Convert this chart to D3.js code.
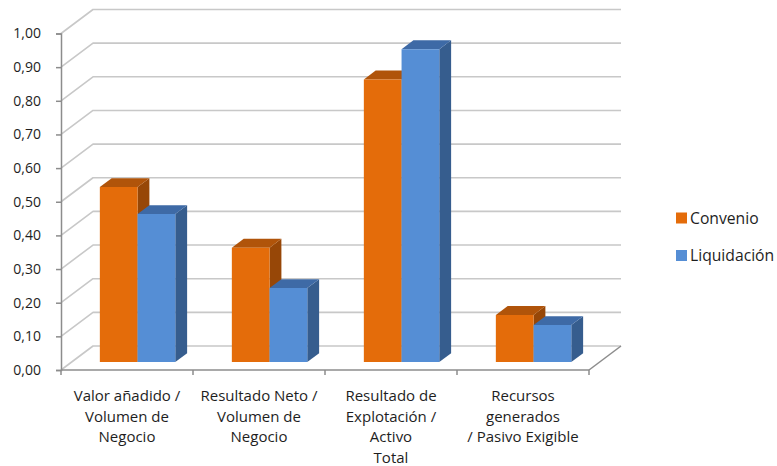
<!DOCTYPE html>
<html>
<head>
<meta charset="utf-8">
<script src="https://cdn.jsdelivr.net/npm/d3@7"></script>
<style>
  html, body { margin: 0; padding: 0; background: #fff; }
  svg { display: block; }
  text { font-family: "Open Sans", sans-serif; fill: #1e1e1e; }
</style>
</head>
<body>
<svg id="chart" width="777" height="466"></svg>
<script>
// Ratios by category, two scenarios
const categories = [
  ["Valor añadido /", "Volumen de", "Negocio"],
  ["Resultado Neto /", "Volumen de", "Negocio"],
  ["Resultado de", "Explotación /", "Activo", "Total"],
  ["Recursos", "generados", "/ Pasivo Exigible"]
];
const seriesNames = ["Convenio", "Liquidación"];
const convenio = [0.52, 0.34, 0.84, 0.14];
const liquidacion = [0.44, 0.22, 0.93, 0.11];
const yTicks = [0, 0.1, 0.2, 0.3, 0.4, 0.5, 0.6, 0.7, 0.8, 0.9, 1.0];

const seriesValues = [convenio, liquidacion];
const colors = {
  Convenio:    { front: "#E46C0A", top: "#B0540A", side: "#974707" },
  "Liquidación": { front: "#558ED5", top: "#3E6AA6", side: "#365D8E" }
};

const svg = d3.select("#chart");

// Front plane geometry and depth projection
const plotLeft = 61, plotRight = 589, plotBottom = 370, plotTop = 33.5;
const DX = 32, DY = -24;           // full depth offset of the back wall
const barFront = 0.33, barBack = 0.70;

const catIdx = d3.range(categories.length);
const x = d3.scaleBand().domain(catIdx).range([plotLeft, plotRight]).paddingInner(0).paddingOuter(0);
const xs = d3.scaleBand().domain(seriesNames).range([0, x.bandwidth()]).paddingInner(0).paddingOuter(0.75);
const y = d3.scaleLinear().domain([0, 1]).range([plotBottom, plotTop]);

const P = (px, v, d) => [px + d * DX, y(v) + d * DY];
const poly = pts => "M" + pts.map(p => p.join(",")).join("L") + "Z";
const fmt = v => d3.format(".2f")(v).replace(".", ",");

const grid = svg.append("g");
// Back wall horizontal gridlines and left wall diagonals
yTicks.forEach(v => {
  const a = P(plotLeft, v, 0), b = P(plotLeft, v, 1), c = P(plotRight, v, 1);
  grid.append("path")
    .attr("d", `M${a}L${b}L${c}`)
    .attr("fill", "none")
    .attr("stroke", "#C8C8C8")
    .attr("stroke-width", 1.6)
    .attr("stroke-linejoin", "round");
});
// Floor outline: right edge
{
  const a = P(plotRight, 0, 0), b = P(plotRight, 0, 1);
  grid.append("path").attr("d", `M${a}L${b}`)
    .attr("stroke", "#8C8C8C").attr("stroke-width", 1.5).attr("fill", "none");
}

// Bars, drawn left to right
const bars = svg.append("g");
catIdx.forEach(i => {
  seriesNames.forEach((s, k) => {
    const v = seriesValues[k][i];
    const x0 = x(i) + xs(s), x1 = x0 + xs.bandwidth();
    const c = colors[s];
    const g = bars.append("g");
    // side face
    g.append("path").attr("fill", c.side)
      .attr("d", poly([P(x1, 0, barFront), P(x1, v, barFront), P(x1, v, barBack), P(x1, 0, barBack)]));
    // top face
    g.append("path").attr("fill", c.top)
      .attr("d", poly([P(x0, v, barFront), P(x1, v, barFront), P(x1, v, barBack), P(x0, v, barBack)]));
    // front face
    g.append("path").attr("fill", c.front)
      .attr("d", poly([P(x0, 0, barFront), P(x1, 0, barFront), P(x1, v, barFront), P(x0, v, barFront)]));
  });
});

// Axes (front plane)
const axisColor = "#8C8C8C";
const yAxis = svg.append("g")
  .attr("transform", `translate(${plotLeft},0)`)
  .call(d3.axisLeft(y).tickValues(yTicks).tickFormat(fmt).tickSizeOuter(0).tickSize(5).tickPadding(15));
yAxis.select(".domain").attr("stroke", axisColor).attr("stroke-width", 1.5);
yAxis.selectAll(".tick line").attr("stroke", axisColor).attr("stroke-width", 1.5);
yAxis.selectAll(".tick text").attr("font-size", 14).attr("font-family", "'Open Sans', sans-serif").attr("fill", "#1e1e1e");

const xEdges = catIdx.map(i => x(i)).concat([plotRight]);
const xAxisG = svg.append("g");
xAxisG.append("line")
  .attr("x1", plotLeft).attr("x2", plotRight).attr("y1", plotBottom).attr("y2", plotBottom)
  .attr("stroke", axisColor).attr("stroke-width", 1.5);
xEdges.forEach(px => {
  xAxisG.append("line").attr("x1", px).attr("x2", px).attr("y1", plotBottom).attr("y2", plotBottom + 5)
    .attr("stroke", axisColor).attr("stroke-width", 1.5);
});

// Category labels
catIdx.forEach(i => {
  const cx = x(i) + x.bandwidth() / 2;
  const t = svg.append("text").attr("text-anchor", "middle").attr("font-size", 15);
  categories[i].forEach((line, j) => {
    t.append("tspan").attr("x", cx).attr("y", 401 + j * 20.5).text(line);
  });
});

// Legend
const legend = svg.append("g");
seriesNames.forEach((s, k) => {
  const ly = 212.5 + k * 37.5;
  legend.append("rect").attr("x", 676).attr("y", ly).attr("width", 11).attr("height", 11).attr("fill", colors[s].front);
  legend.append("text").attr("x", 690).attr("y", ly + 11).attr("font-size", 15.7).text(s);
});
</script>
</body>
</html>
